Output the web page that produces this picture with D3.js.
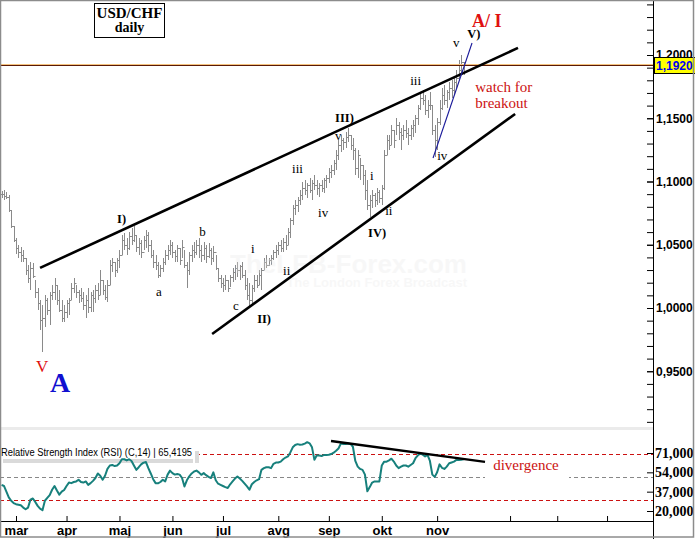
<!DOCTYPE html>
<html>
<head>
<meta charset="utf-8">
<script src="https://cdnjs.cloudflare.com/ajax/libs/d3/7.8.5/d3.min.js"></script>
<style>
  body { margin: 0; background: #fff; }
  svg { display: block; }
</style>
</head>
<body>
<div id="chart"></div>
<script>
// USD/CHF daily, Feb 22 - Nov 18 (one value per trading day)
var firstDay = new Date(2008, 1, 22);
var firstIdx = -6;   // bar index of firstDay (0 = first bar of March)

var hi = [
  1.0925, 1.0933, 1.0917, 1.0894, 1.0775, 1.0649,
  1.0554, 1.0498, 1.0482, 1.0459, 1.0396, 1.0340, 1.0364, 1.0356, 1.0222, 1.0158,
  1.0064, 1.0024, 1.0103, 1.0079, 1.0127, 1.0182, 1.0237, 1.0182, 1.0143, 1.0064,
  1.0024, 1.0064, 1.0079, 1.0198, 1.0237, 1.0182, 1.0143, 1.0158, 1.0127, 1.0103,
  1.0158, 1.0127, 1.0143, 1.0182, 1.0198, 1.0301, 1.0222, 1.0182, 1.0222, 1.0380,
  1.0396, 1.0364, 1.0396, 1.0459, 1.0577, 1.0593, 1.0554, 1.0601, 1.0633, 1.0649,
  1.0577, 1.0554, 1.0538, 1.0569, 1.0617, 1.0601, 1.0538, 1.0459, 1.0419, 1.0364,
  1.0340, 1.0396, 1.0459, 1.0498, 1.0538, 1.0522, 1.0459, 1.0498, 1.0475, 1.0538,
  1.0459, 1.0364, 1.0443, 1.0498, 1.0522, 1.0538, 1.0554, 1.0498, 1.0522, 1.0498,
  1.0514, 1.0475, 1.0490, 1.0419, 1.0316, 1.0261, 1.0237, 1.0261, 1.0222, 1.0261,
  1.0316, 1.0340, 1.0364, 1.0340, 1.0364, 1.0301, 1.0237, 1.0198, 1.0182, 1.0261,
  1.0261, 1.0301, 1.0316, 1.0396, 1.0419, 1.0396, 1.0419, 1.0459, 1.0498, 1.0522,
  1.0538, 1.0554, 1.0577, 1.0633, 1.0712, 1.0815, 1.0854, 1.0878, 1.0933, 1.0997,
  1.1012, 1.0989, 1.1028, 1.1012, 1.1052, 1.1012, 1.0989, 1.1012, 1.1028, 1.1052,
  1.1107, 1.1131, 1.1170, 1.1249, 1.1328, 1.1368, 1.1344, 1.1391, 1.1423, 1.1368,
  1.1344, 1.1265, 1.1249, 1.1186, 1.1131, 1.1091, 1.1012, 1.0894, 1.0933, 1.0909,
  1.0949, 1.0933, 1.0973, 1.1249, 1.1368, 1.1368, 1.1447, 1.1407, 1.1502, 1.1471,
  1.1423, 1.1447, 1.1486, 1.1423, 1.1447, 1.1486, 1.1526, 1.1605, 1.1708, 1.1724,
  1.1684, 1.1645, 1.1708, 1.1605, 1.1447, 1.1502, 1.1645, 1.1739, 1.1763, 1.1724,
  1.1787, 1.1803, 1.1818, 1.1882, 1.1961, 1.2000, 1.1945
];

var lo = [
  1.0870, 1.0854, 1.0862, 1.0759, 1.0633, 1.0522,
  1.0427, 1.0396, 1.0364, 1.0364, 1.0261, 1.0198, 1.0143, 1.0237, 1.0079, 0.9985,
  0.9826, 0.9652, 0.9850, 0.9945, 0.9866, 1.0064, 1.0064, 1.0024, 0.9969, 0.9890,
  0.9890, 0.9921, 0.9945, 1.0064, 1.0119, 1.0079, 1.0040, 1.0048, 0.9985, 0.9921,
  0.9961, 0.9969, 0.9969, 1.0040, 1.0064, 1.0103, 1.0103, 1.0064, 1.0048, 1.0182,
  1.0285, 1.0245, 1.0277, 1.0316, 1.0419, 1.0459, 1.0419, 1.0459, 1.0498, 1.0522,
  1.0443, 1.0419, 1.0396, 1.0459, 1.0475, 1.0443, 1.0396, 1.0316, 1.0301, 1.0237,
  1.0245, 1.0285, 1.0340, 1.0380, 1.0419, 1.0396, 1.0364, 1.0364, 1.0340, 1.0396,
  1.0316, 1.0158, 1.0261, 1.0364, 1.0396, 1.0419, 1.0396, 1.0364, 1.0380, 1.0356,
  1.0396, 1.0340, 1.0364, 1.0301, 1.0206, 1.0158, 1.0127, 1.0143, 1.0127, 1.0166,
  1.0206, 1.0222, 1.0245, 1.0222, 1.0237, 1.0143, 1.0064, 1.0008, 1.0024, 1.0127,
  1.0158, 1.0182, 1.0143, 1.0301, 1.0316, 1.0332, 1.0340, 1.0380, 1.0396, 1.0419,
  1.0443, 1.0443, 1.0459, 1.0498, 1.0554, 1.0656, 1.0735, 1.0759, 1.0815, 1.0854,
  1.0894, 1.0870, 1.0909, 1.0854, 1.0933, 1.0894, 1.0878, 1.0917, 1.0909, 1.0949,
  1.0989, 1.1028, 1.1052, 1.1091, 1.1170, 1.1233, 1.1249, 1.1265, 1.1313, 1.1249,
  1.1170, 1.1052, 1.1028, 1.1012, 1.0973, 1.0854, 1.0775, 1.0720, 1.0791, 1.0799,
  1.0815, 1.0830, 1.0815, 1.0933, 1.1210, 1.1249, 1.1289, 1.1265, 1.1368, 1.1328,
  1.1249, 1.1328, 1.1344, 1.1289, 1.1328, 1.1352, 1.1384, 1.1447, 1.1565, 1.1605,
  1.1526, 1.1502, 1.1565, 1.1368, 1.1194, 1.1249, 1.1447, 1.1565, 1.1605, 1.1581,
  1.1645, 1.1660, 1.1684, 1.1739, 1.1803, 1.1842, 1.1842
];

var cl = [
  1.0901, 1.0886, 1.0878, 1.0775, 1.0649, 1.0538,
  1.0475, 1.0443, 1.0419, 1.0396, 1.0301, 1.0237, 1.0316, 1.0253, 1.0127, 1.0040,
  0.9905, 0.9921, 1.0064, 0.9985, 1.0103, 1.0127, 1.0182, 1.0064, 0.9985, 0.9921,
  0.9969, 1.0040, 1.0064, 1.0158, 1.0198, 1.0127, 1.0103, 1.0079, 1.0024, 1.0064,
  1.0008, 1.0103, 1.0079, 1.0143, 1.0103, 1.0222, 1.0143, 1.0087, 1.0182, 1.0340,
  1.0364, 1.0301, 1.0380, 1.0419, 1.0538, 1.0498, 1.0475, 1.0569, 1.0538, 1.0577,
  1.0482, 1.0514, 1.0443, 1.0538, 1.0577, 1.0498, 1.0419, 1.0364, 1.0340, 1.0261,
  1.0316, 1.0364, 1.0419, 1.0459, 1.0498, 1.0443, 1.0411, 1.0475, 1.0380, 1.0482,
  1.0340, 1.0301, 1.0419, 1.0459, 1.0443, 1.0498, 1.0459, 1.0419, 1.0475, 1.0411,
  1.0459, 1.0396, 1.0443, 1.0316, 1.0237, 1.0198, 1.0182, 1.0222, 1.0158, 1.0245,
  1.0285, 1.0316, 1.0301, 1.0332, 1.0261, 1.0182, 1.0103, 1.0064, 1.0158, 1.0222,
  1.0182, 1.0261, 1.0301, 1.0364, 1.0340, 1.0380, 1.0396, 1.0443, 1.0459, 1.0498,
  1.0475, 1.0522, 1.0498, 1.0601, 1.0696, 1.0791, 1.0815, 1.0854, 1.0894, 1.0949,
  1.0933, 1.0973, 1.0933, 1.0989, 1.0973, 1.0949, 1.0973, 1.0949, 1.1012, 1.1028,
  1.1075, 1.1091, 1.1146, 1.1210, 1.1289, 1.1328, 1.1313, 1.1352, 1.1368, 1.1289,
  1.1249, 1.1107, 1.1210, 1.1131, 1.1052, 1.0933, 1.0815, 1.0854, 1.0894, 1.0854,
  1.0917, 1.0870, 1.0949, 1.1210, 1.1328, 1.1289, 1.1407, 1.1328, 1.1447, 1.1391,
  1.1368, 1.1407, 1.1384, 1.1368, 1.1423, 1.1447, 1.1502, 1.1581, 1.1660, 1.1645,
  1.1565, 1.1605, 1.1605, 1.1407, 1.1328, 1.1471, 1.1581, 1.1684, 1.1645, 1.1708,
  1.1739, 1.1724, 1.1787, 1.1818, 1.1882, 1.1945, 1.1920
];

// RSI(C,14)
var rsi = [
  43, 42, 37, 32, 29, 27,
  26, 25.5, 25, 23, 21.5, 23, 30, 31, 28, 24.5,
  22, 20.7, 29, 31.5, 34, 38.7, 42, 38, 34.4, 37,
  38.5, 42, 45, 44.5, 45.5, 46, 47.5, 45.5, 45, 46,
  43, 44.5, 46.5, 49, 53, 51, 47.5, 51, 57, 60,
  60.5, 59.5, 60, 62, 65.5, 65.5, 64.5, 65.5, 64, 60,
  56.2, 58.5, 61, 62.5, 63, 57.7, 53, 48, 44.5, 44.3,
  45.5, 47.5, 46, 52, 55.5, 53.3, 52, 52.5, 52, 49,
  41.6, 47, 50.5, 53, 54.7, 55.5, 54, 51.8, 53.3, 51.5,
  50, 49, 54, 47, 44, 43, 42, 41, 40.2, 43.5,
  46, 48.5, 50.3, 48.5, 46.5, 44, 41.6, 38.7, 43.5, 45.5,
  47, 48, 56.2, 57.7, 58.5, 58.5, 57.7, 61.5, 62.6, 62.6,
  63.4, 65.5, 67, 68, 71.5, 76, 78, 78.8, 78.3, 78.5,
  79.3, 80.5, 79.5, 76, 65, 69, 68.8, 68.4, 69.3, 69.3,
  69.5, 70.1, 71.3, 73, 75, 79.4, 78.8, 79, 79.4, 79,
  76.5, 64, 59, 57, 56.2, 52, 37.3, 41, 45, 46,
  46, 46, 60, 63.4, 63.4, 64.5, 66, 63.5, 60, 57.7,
  59, 60, 60, 59, 60.5, 62, 66.4, 69, 70.5, 69.5,
  68, 69.3, 64, 52, 50, 54, 61, 58, 57, 59,
  62, 62.7, 63.4, 64.9, 64.9, 65, 65.4195
];

var lastPrice = 1.1920;
var monthNames = ["jan", "feb", "mar", "apr", "maj", "jun", "jul", "avg", "sep", "okt", "nov", "dec"];
var blankTicks = [205.3, 224.9, 245.6];   // unlabelled ticks right of the data

var priceMajor = [0.95, 1.00, 1.05, 1.10, 1.15, 1.20];
var priceMinor = d3.range(91, 125).map(function(d) { return d / 100; });
var rsiTicks = [20, 37, 54, 71];
var rsiLevels = [{v: 70, c: "#cc1111"}, {v: 50, c: "#888"}, {v: 30, c: "#cc1111"}];

// drawn annotation lines: [bar index, value]
var channelTop = [[10, 1.0317], [208.6, 1.2056]];
var channelBottom = [[81.5, 0.9795], [207.4, 1.1534]];
var waveLine = [[173.3, 1.1186], [189.5, 1.2095]];
var rsiTrend = [[130.9, 81.5], [194.9, 63.2]];

// wave count labels: [text, bar index, price, style]
var waveLabels = [
  ["A/ I", 189.5, 1.2222, "big"],
  ["V)", 187.5, 1.2135, "bold"],
  ["v", 181.6, 1.2063, "small"],
  ["iii", 163.8, 1.1763, "small"],
  ["III)", 132.6, 1.1471, "bold"],
  ["v", 132.6, 1.1328, "small"],
  ["iv", 175, 1.1170, "small"],
  ["iii", 114.7, 1.1067, "small"],
  ["i", 147.1, 1.1012, "small"],
  ["iv", 125.5, 1.0720, "small"],
  ["ii", 153.4, 1.0735, "small"],
  ["IV)", 146.3, 1.0562, "bold"],
  ["i", 97.7, 1.0435, "small"],
  ["ii", 111, 1.0261, "small"],
  ["II)", 100.2, 0.9882, "bold"],
  ["c", 90.2, 0.9985, "small"],
  ["b", 76.1, 1.0569, "small"],
  ["a", 58.2, 1.0095, "small"],
  ["I)", 42, 1.0672, "bold"],
  ["V", 8.3, 0.9494, "redV"],
  ["A", 14.1, 0.9336, "blueA"]
];

var W = 695, H = 539;
var axisX = 653;        // right price axis
var mainBottom = 427;   // bottom of price pane
var timeY = 521;        // time axis line
var serif = "'Liberation Serif', 'Times New Roman', serif";
var sans = "'Liberation Sans', Arial, sans-serif";

var x = d3.scaleLinear().domain([-6.65, 264.7]).range([0, axisX]);
var y = d3.scaleLinear().domain([1.0, 1.2]).range([308, 55]);
var yr = d3.scaleLinear().domain([20, 71]).range([511, 453]);

var commaFmt = function(f) {
  return function(d) { return d3.format(f)(d).replace(".", ","); };
};

// trading days (weekdays) for every bar index
var days = [];
var dt = new Date(firstDay);
while (days.length < 275) {
  if (dt.getDay() != 0 && dt.getDay() != 6) days.push(new Date(dt));
  dt.setDate(dt.getDate() + 1);
}
var monthTicks = [];
for (var k = 1; k < hi.length; k++) {
  if (days[k].getMonth() != days[k - 1].getMonth())
    monthTicks.push({i: k + firstIdx, label: monthNames[days[k].getMonth()]});
}

var svg = d3.select("#chart").append("svg")
    .attr("width", W)
    .attr("height", H);

svg.append("rect").attr("width", W).attr("height", H).attr("fill", "#fff");

var defs = svg.append("defs");
defs.append("clipPath").attr("id", "clipMain")
  .append("rect").attr("x", 1).attr("y", 1).attr("width", axisX - 1).attr("height", mainBottom - 1);
defs.append("clipPath").attr("id", "clipRsi")
  .append("rect").attr("x", 0).attr("y", 431).attr("width", axisX).attr("height", timeY - 431);

var main = svg.append("g").attr("clip-path", "url(#clipMain)");

// OHLC bars (open tick at previous close)
var bars = hi.map(function(h, k) {
  return {i: k + firstIdx, hi: h, lo: lo[k], cl: cl[k], op: k > 0 ? cl[k - 1] : cl[k]};
});
main.append("g")
  .selectAll("path")
  .data(bars)
  .enter().append("path")
    .attr("d", function(d) {
      var px = Math.round(x(d.i)) + 0.5;
      return "M" + px + "," + Math.round(y(d.hi)) + "V" + Math.round(y(d.lo)) +
             "M" + (px - 1.5) + "," + (Math.round(y(d.op)) + 0.5) + "H" + px +
             "M" + px + "," + (Math.round(y(d.cl)) + 0.5) + "H" + (px + 1.5);
    })
    .attr("stroke", "#8a8a8a")
    .attr("stroke-width", 1)
    .attr("fill", "none");

// faint watermark
main.append("text")
  .attr("x", 467).attr("y", 273)
  .attr("text-anchor", "end")
  .style("font-family", sans).style("font-weight", "bold").style("font-size", "26px")
  .attr("fill", "#e8e8e8").attr("opacity", 0.3)
  .text("TheLFB-Forex.com");
main.append("text")
  .attr("x", 467).attr("y", 287)
  .attr("text-anchor", "end")
  .style("font-family", sans).style("font-weight", "bold").style("font-size", "13px")
  .attr("fill", "#e8e8e8").attr("opacity", 0.3)
  .text("The London Forex Broadcast");

// last price line
var ly = Math.round(y(lastPrice));
main.append("line")
  .attr("x1", 0).attr("x2", axisX).attr("y1", ly - 0.5).attr("y2", ly - 0.5)
  .attr("stroke", "#f3c27e").attr("stroke-width", 1);
main.append("line")
  .attr("x1", 0).attr("x2", axisX).attr("y1", ly + 0.5).attr("y2", ly + 0.5)
  .attr("stroke", "#5a1a06").attr("stroke-width", 1.2);

var priceLine = d3.line()
  .x(function(d) { return x(d[0]); })
  .y(function(d) { return y(d[1]); });

main.append("path").datum(channelTop)
  .attr("d", priceLine).attr("stroke", "#000").attr("stroke-width", 2.6).attr("fill", "none");
main.append("path").datum(channelBottom)
  .attr("d", priceLine).attr("stroke", "#000").attr("stroke-width", 2.6).attr("fill", "none");
main.append("path").datum(waveLine)
  .attr("d", priceLine).attr("stroke", "#1a1a9a").attr("stroke-width", 1.1).attr("fill", "none");

// wave labels
var labelStyle = {
  small: {size: "13px", weight: "normal", fill: "#000"},
  bold:  {size: "12.5px", weight: "bold", fill: "#000"},
  big:   {size: "18px", weight: "bold", fill: "#e01010"},
  redV:  {size: "17px", weight: "normal", fill: "#e01010"},
  blueA: {size: "28px", weight: "bold", fill: "#1010d0"}
};
main.append("g")
  .selectAll("text")
  .data(waveLabels)
  .enter().append("text")
    .attr("x", function(d) { return x(d[1]); })
    .attr("y", function(d) { return y(d[2]); })
    .style("font-family", serif)
    .style("font-size", function(d) { return labelStyle[d[3]].size; })
    .style("font-weight", function(d) { return labelStyle[d[3]].weight; })
    .attr("fill", function(d) { return labelStyle[d[3]].fill; })
    .text(function(d) { return d[0]; });

main.append("text")
  .attr("x", x(190.8)).attr("y", y(1.1708))
  .style("font-family", serif).style("font-size", "15px").attr("fill", "#cc1111")
  .text("watch for");
main.append("text")
  .attr("x", x(190.8)).attr("y", y(1.1581))
  .style("font-family", serif).style("font-size", "15px").attr("fill", "#cc1111")
  .text("breakout");

// title box
svg.append("rect")
  .attr("x", 94.5).attr("y", 3.5).attr("width", 70).attr("height", 34)
  .attr("fill", "#fff").attr("stroke", "#000").attr("stroke-width", 1);
svg.append("text")
  .attr("x", 129.5).attr("y", 18).attr("text-anchor", "middle")
  .style("font-family", serif).style("font-weight", "bold").style("font-size", "15px")
  .text("USD/CHF");
svg.append("text")
  .attr("x", 129.5).attr("y", 32).attr("text-anchor", "middle")
  .style("font-family", serif).style("font-weight", "bold").style("font-size", "14px")
  .text("daily");

// separator between panes
svg.append("rect")
  .attr("x", 1).attr("y", mainBottom).attr("width", axisX - 1).attr("height", 3)
  .attr("fill", "#ebebeb");

// ---- RSI pane
var rsiG = svg.append("g").attr("clip-path", "url(#clipRsi)");

rsiG.selectAll("line.level")
  .data(rsiLevels)
  .enter().append("line")
    .attr("class", "level")
    .attr("x1", 0).attr("x2", axisX)
    .attr("y1", function(d) { return Math.round(yr(d.v)) + 0.5; })
    .attr("y2", function(d) { return Math.round(yr(d.v)) + 0.5; })
    .attr("stroke", function(d) { return d.c; })
    .attr("stroke-dasharray", "4,3");

// label backgrounds
rsiG.append("rect").attr("x", 0).attr("y", 444).attr("width", 195).attr("height", 15).attr("fill", "#fff");
rsiG.append("rect").attr("x", 3).attr("y", 459).attr("width", 190).attr("height", 4).attr("fill", "#dadada");
rsiG.append("rect").attr("x", 195).attr("y", 451).attr("width", 4).attr("height", 12).attr("fill", "#dadada");
rsiG.append("rect").attr("x", 485).attr("y", 456).attr("width", 84).attr("height", 23).attr("fill", "#fff");

var rsiLine = d3.line()
  .x(function(d, k) { return x(k + firstIdx); })
  .y(function(d) { return yr(d); });
rsiG.append("path").datum(rsi)
  .attr("d", rsiLine)
  .attr("stroke", "#17807c").attr("stroke-width", 2).attr("fill", "none")
  .attr("stroke-linejoin", "round");

rsiG.append("path").datum(rsiTrend)
  .attr("d", d3.line().x(function(d) { return x(d[0]); }).y(function(d) { return yr(d[1]); }))
  .attr("stroke", "#000").attr("stroke-width", 2.4).attr("fill", "none");

rsiG.append("text")
  .attr("x", 1).attr("y", 456)
  .attr("textLength", 191).attr("lengthAdjust", "spacingAndGlyphs")
  .style("font-family", sans).style("font-size", "10px")
  .text("Relative Strength Index (RSI) (C,14) | " + commaFmt(".4f")(rsi[rsi.length - 1]));

rsiG.append("text")
  .attr("x", x(198.3)).attr("y", yr(56.2))
  .style("font-family", serif).style("font-size", "15px").attr("fill", "#cc1111")
  .text("divergence");

// ---- axes
var pAxis = svg.append("g").attr("transform", "translate(" + axisX + ",0)");
pAxis.append("g")
  .call(d3.axisRight(y).tickValues(priceMinor).tickSize(-6).tickFormat(""));
pAxis.append("g")
  .call(d3.axisRight(y).tickValues(priceMajor).tickSize(-6).tickPadding(3).tickFormat(commaFmt(".4f")))
  .selectAll("text")
    .style("font-family", sans).style("font-weight", "bold").style("font-size", "12px")
    .attr("fill", "#000");

var rAxis = svg.append("g").attr("transform", "translate(" + axisX + ",0)");
rAxis.call(d3.axisRight(yr).tickValues(rsiTicks).tickSize(-6).tickPadding(2).tickFormat(commaFmt(".3f")))
  .selectAll("text")
    .style("font-family", serif).style("font-weight", "bold").style("font-size", "14px")
    .attr("fill", "#000");

svg.selectAll(".domain").remove();
svg.selectAll(".tick line").attr("stroke", "#000");

var tAxisTicks = monthTicks.concat(blankTicks.map(function(v) { return {i: v, label: ""}; }));
var tAxis = svg.append("g").attr("transform", "translate(0," + timeY + ")")
  .call(d3.axisBottom(x)
    .tickValues(tAxisTicks.map(function(d) { return d.i; }))
    .tickSize(-5)
    .tickPadding(5)
    .tickFormat(function(v) {
      var t = tAxisTicks.filter(function(d) { return d.i == v; })[0];
      return t ? t.label : "";
    }));
tAxis.select(".domain").remove();
tAxis.selectAll(".tick line").attr("stroke", "#000");
tAxis.selectAll("text")
  .style("font-family", sans).style("font-weight", "bold").style("font-size", "13px")
  .attr("fill", "#000");

svg.append("line")
  .attr("x1", 0).attr("x2", axisX).attr("y1", timeY + 0.5).attr("y2", timeY + 0.5)
  .attr("stroke", "#000");
svg.append("line")
  .attr("x1", axisX + 0.5).attr("x2", axisX + 0.5).attr("y1", 0).attr("y2", H)
  .attr("stroke", "#000");

// last price flag
svg.append("rect")
  .attr("x", axisX + 1.5).attr("y", ly - 7.5).attr("width", 42).attr("height", 16)
  .attr("fill", "#ffff00").attr("stroke", "#000");
svg.append("text")
  .attr("x", axisX + 3).attr("y", ly + 5)
  .style("font-family", sans).style("font-weight", "bold").style("font-size", "12px")
  .attr("fill", "#0000ee")
  .text(commaFmt(".4f")(lastPrice));

// outer frame
svg.append("rect")
  .attr("x", 0.5).attr("y", 0.5).attr("width", W - 2).attr("height", H - 2.5)
  .attr("fill", "none").attr("stroke", "#8c8c8c").attr("stroke-width", 1.5);
</script>
</body>
</html>
